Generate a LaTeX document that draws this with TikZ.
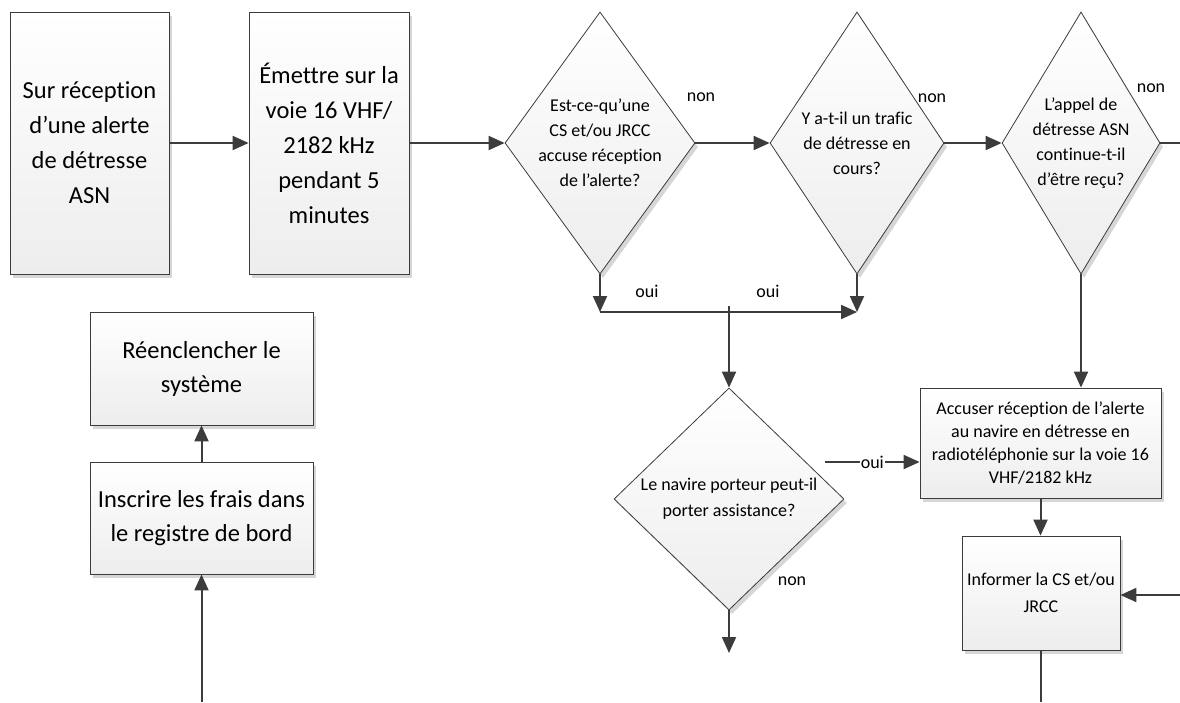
\documentclass[tikz,border=0pt]{standalone}
\usepackage{fontspec}
\setmainfont{Carlito}[Ligatures=NoCommon]
\usetikzlibrary{shapes.geometric,arrows.meta,shadows}

\definecolor{linegray}{HTML}{3C3C3C}
\definecolor{shadowgray}{HTML}{D6D6D6}

\tikzset{
  boxbase/.style={draw=linegray, line width=0.8pt, top color=white, bottom color=black!7,
    drop shadow={shadow xshift=3pt, shadow yshift=-4pt, fill=shadowgray, opacity=1}},
  procbox/.style={boxbase, rectangle, inner sep=0pt, align=center},
  decision/.style={boxbase, diamond, inner sep=0pt},
  bigtext/.style={font=\fontsize{24.5}{35}\selectfont},
  smalltext/.style={font=\fontsize{18}{25}\selectfont},
  flow/.style={line width=2pt, draw=linegray, -{Triangle[length=16pt,width=14pt]}},
  plainflow/.style={line width=2pt, draw=linegray},
  answer/.style={font=\fontsize{18}{22}\selectfont, inner sep=1pt}
}

\begin{document}
\begin{tikzpicture}[x=1pt, y=-1pt]
        \useasboundingbox (0,0) rectangle (1180,702);

        % Rangée du haut
        \node[procbox, bigtext, minimum width=159pt, minimum height=262pt] (recv) at (89.5,143) {Sur réception\\d’une alerte\\de détresse\\ASN};
        \node[procbox, bigtext, minimum width=160pt, minimum height=262pt] (emit) at (329,143) {Émettre sur la\\voie 16 VHF/\\2182 kHz\\pendant 5\\minutes};
        \node[decision, minimum width=190pt, minimum height=262pt] (ackq) at (600,143) {};
        \node[smalltext, align=center] (ackqtxt) at (ackq) {Est-ce-qu’une\\CS et/ou JRCC\\accuse réception\\de l’alerte?};
        \node[decision, minimum width=174pt, minimum height=262pt] (trafq) at (857,143) {};
        \node[smalltext, align=center] (trafqtxt) at (trafq) {Y a-t-il un trafic\\de détresse en\\cours?};
        \node[decision, minimum width=158pt, minimum height=262pt] (contq) at (1081,143) {};
        \node[smalltext, align=center] (contqtxt) at (contq) {L’appel de\\détresse ASN\\continue-t-il\\d’être reçu?};

        \draw[flow] (recv.east) -- (emit.west);
        \draw[flow] (emit.east) -- (ackq.west);
        \draw[flow] (ackq.east) -- (trafq.west);
        \draw[flow] (trafq.east) -- (contq.west);
        \coordinate (outA) at (1180,143);
        \draw[plainflow] (contq.east) -- (outA);
        \node[answer] (non1) at (701,97) {non};
        \node[answer] (non2) at (932,98) {non};
        \node[answer] (non3) at (1151,88) {non};

        % Jonction des deux "oui"
        \coordinate (joinL) at (600,312);
        \coordinate (joinR) at (857,312);
        \coordinate (joinM) at (729,306);
        \draw[flow] (ackq.south) -- (joinL);
        \draw[flow] (trafq.south) -- (joinR);
        \draw[flow] (joinL) -- (joinR);
        \node[answer] (oui1) at (647,291) {oui};
        \node[answer] (oui2) at (768,291) {oui};

        % Assistance
        \node[decision, minimum width=230pt, minimum height=222pt] (helpq) at (729,499) {};
        \node[smalltext, font=\fontsize{18}{26}\selectfont, align=center] (helpqtxt) at (helpq) {Le navire porteur peut-il\\porter assistance?};
        \draw[flow] (joinM) -- (helpq.north);
        \coordinate (outB) at (729,653);
        \draw[flow] (helpq.south) -- (outB);
        \node[answer] (non4) at (792,581) {non};

        % Colonne de droite
        \node[procbox, font=\fontsize{18}{23}\selectfont, minimum width=241pt, minimum height=110pt] (ackbox) at (1040.5,443) {Accuser réception de l’alerte\\au navire en détresse en\\radiotéléphonie sur la voie 16\\VHF/2182 kHz};
        \node[procbox, font=\fontsize{18}{27}\selectfont, minimum width=158pt, minimum height=114pt] (inform) at (1041,593) {Informer la CS et/ou\\JRCC};
        \coordinate (ouiA) at (825,462);
        \draw[flow] (ouiA) -- node[answer, fill=white] (oui3) {oui} (ouiA -| ackbox.west);
        \draw[flow] (contq.south) -- (contq.south |- ackbox.north);
        \draw[flow] (ackbox.south) -- (ackbox.south |- inform.north);
        \coordinate (inC) at (1180,595);
        \draw[flow] (inC) -- (inC -| inform.east);
        \coordinate (outC) at (1041,702);
        \draw[plainflow] (inform.south) -- (outC);

        % Colonne de gauche
        \node[procbox, font=\fontsize{24.5}{34}\selectfont, minimum width=223pt, minimum height=113pt] (reset) at (201.5,368.5) {Réenclencher le\\système};
        \node[procbox, font=\fontsize{24.5}{34}\selectfont, minimum width=223pt, minimum height=112pt] (logbook) at (201.5,518) {Inscrire les frais dans\\le registre de bord};
        \draw[flow] (logbook.north) -- (reset.south);
        \coordinate (inD) at (201.5,702);
        \draw[flow] (inD) -- (logbook.south);
    \end{tikzpicture}
\end{document}
